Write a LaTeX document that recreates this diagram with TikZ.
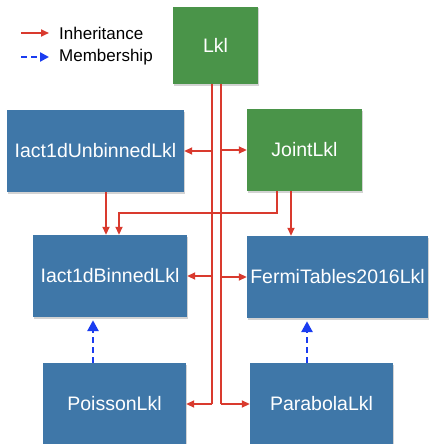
\documentclass[tikz,border=0pt]{standalone}
\usepackage{fontspec}
\setmainfont{Liberation Sans}
\usetikzlibrary{arrows.meta}
\usetikzlibrary{shadows}
\definecolor{BoxBlue}{HTML}{3F77A8}
\definecolor{BoxGreen}{HTML}{4A9449}
\definecolor{InhRed}{HTML}{D93A2E}
\definecolor{MemBlue}{HTML}{1A3CF0}
\tikzset{
  cls/.style={rectangle,fill=BoxBlue,text=white,inner sep=0pt,
    font=\fontsize{19.5}{23}\selectfont,
    drop shadow={shadow xshift=1pt,shadow yshift=-1.5pt,opacity=0.35}},
  base/.style={cls,fill=BoxGreen},
  inh/.style={draw=InhRed,line width=1.8pt,-{Triangle[length=8pt,width=7pt]}},
  inhline/.style={draw=InhRed,line width=1.8pt},
  memb/.style={draw=MemBlue,line width=2.8pt,dash pattern=on 6pt off 4pt,
    -{Triangle[length=11pt,width=11pt]}},
}

\begin{document}
\begin{tikzpicture}[x=1pt,y=-1pt]
  \useasboundingbox (0,0) rectangle (428,444);

  % classes
  \node[base,minimum width=85pt,minimum height=77pt] (Lkl) at (215.5,45.5) {Lkl};
  \node[cls,minimum width=177pt,minimum height=82pt] (Unbinned) at (95.5,151) {Iact1dUnbinnedLkl};
  \node[base,minimum width=115pt,minimum height=82pt] (Joint) at (304.5,150) {JointLkl};
  \node[cls,minimum width=154pt,minimum height=82pt] (Binned) at (110,276) {Iact1dBinnedLkl};
  \node[cls,minimum width=181pt,minimum height=82pt] (Fermi) at (337.5,277) {FermiTables2016Lkl};
  \node[cls,minimum width=143pt,minimum height=82pt] (Poisson) at (114.5,404) {PoissonLkl};
  \node[cls,minimum width=143pt,minimum height=82pt] (Parabola) at (321.5,404) {ParabolaLkl};

  % legend
  \node[anchor=west,inner sep=0pt,font=\fontsize{17}{20}\selectfont] (inhtxt) at (59,33) {Inheritance};
  \node[anchor=west,inner sep=0pt,font=\fontsize{17}{20}\selectfont] (membtxt) at (59,57) {Membership};
  \coordinate (inhstart) at (21,33);
  \coordinate (membstart) at (21,57);
  \draw[inh] (inhstart) -- ([xshift=-10pt]inhtxt.west);
  \draw[memb,-{Triangle[length=9pt,width=9pt]}] (membstart) -- ([xshift=-10pt]membtxt.west);

  % JointLkl -> Iact1dBinnedLkl (under the trunks)
  \coordinate (jb) at (119,213);
  \draw[inh] ([xshift=-27.5pt]Joint.south) |- (jb) -- (jb |- Binned.north);
  \draw[inh] ([xshift=-13.5pt]Joint.south) -- ([xshift=-13.5pt]Joint.south |- Fermi.north);
  \draw[inh] ([xshift=10.5pt]Unbinned.south) -- ([xshift=10.5pt]Unbinned.south |- Binned.north);

  % trunks from Lkl
  \coordinate (trunkL) at ([xshift=-3.5pt]Lkl.south);
  \coordinate (trunkR) at ([xshift=5.5pt]Lkl.south);
  \draw[inhline] (trunkL) -- (trunkL |- Poisson.east);
  \draw[inhline] (trunkR) -- (trunkR |- Parabola.west);
  \foreach \n in {Unbinned,Binned,Poisson}{%
    \draw[inh] (trunkL |- \n.east) -- (\n.east);
  }
  \foreach \n in {Joint,Fermi,Parabola}{%
    \draw[inh] (trunkR |- \n.west) -- (\n.west);
  }

  % membership
  \draw[memb,shorten >=3pt] ([xshift=-21.5pt]Poisson.north) -- ([xshift=-21.5pt]Poisson.north |- Binned.south);
  \draw[memb,shorten >=3pt] ([xshift=-14.5pt]Parabola.north) -- ([xshift=-14.5pt]Parabola.north |- Fermi.south);
\end{tikzpicture}
\end{document}
